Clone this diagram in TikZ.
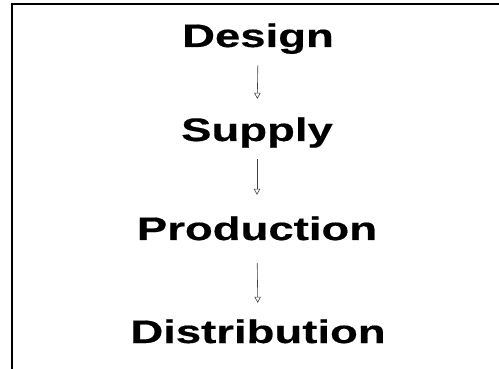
\documentclass[tikz,border=0pt]{standalone}
\usepackage{fontspec}
\newfontfamily\hv[FakeStretch=1.40, FakeBold=0.4]{Liberation Sans}
\usetikzlibrary{arrows.meta}
\tikzset{
  stage/.style={font=\hv\bfseries\fontsize{32.5}{36}\selectfont, inner sep=0pt, anchor=base, text height=23pt, text depth=7pt},
  flow/.style={draw=black!75, line width=0.6pt, -{Triangle[open, length=6pt, width=6.5pt, line width=0.6pt]}},
  frame/.style={draw=black, line width=2pt}
}
\begin{document}
\begin{tikzpicture}[x=1pt, y=-1pt]
\useasboundingbox (0,0) rectangle (499,369);
\coordinate (ftr) at (499,4.5);
\coordinate (ftl) at (11.5,4.5);
\coordinate (fbl) at (11.5,369);
\draw[frame] (ftr) -- (ftl) -- (fbl);
\node[stage] (design) at (258,47) {Design};
\node[stage] (supply) at (257,141) {Supply};
\node[stage] (production) at (257,240) {Production};
\node[stage] (distribution) at (258,343) {Distribution};
\draw[flow, shorten <=11pt, shorten >=19pt] (design.south) -- (supply.north);
\draw[flow, shorten <=11pt, shorten >=22pt] (supply.south) -- (production.north);
\draw[flow, shorten <=16pt, shorten >=17pt] (production.south) -- (distribution.north);
\end{tikzpicture}
\end{document}
